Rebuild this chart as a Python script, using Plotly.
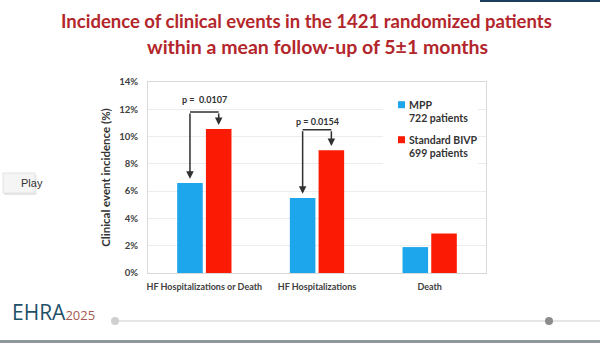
import plotly.graph_objects as go

# Clinical event incidence (%) per group
categories = ["HF Hospitalizations or Death", "HF Hospitalizations", "Death"]
mpp_values = [6.6, 5.5, 1.9]
bivp_values = [10.55, 9.0, 2.9]
series_names = ["MPP", "Standard BIVP"]
series_sizes = ["722 patients", "699 patients"]
p_labels = ["p =  0.0107", "p = 0.0154"]
y_ticks = [0, 2, 4, 6, 8, 10, 12, 14]
y_tick_text = [f"{v}%" for v in y_ticks]
title_lines = ["Incidence of clinical events in the 1421 randomized patients",
               "within a mean follow-up of 5\u00b11 months"]

W, H = 600, 343
L, R, T, B = 148, 114, 82, 70
PW, PH = W - L - R, H - T - B


def px(x, y):
    """Pixel position on the page -> paper coordinates."""
    return (x - L) / PW, (H - B - y) / PH


BLUE = "#1ea6ec"
RED = "#fb1b04"
TXT = "#404040"
FONT = "Lato"
bargap = 0.49
colors = [BLUE, RED]

fig = go.Figure()
fig.add_bar(x=categories, y=mpp_values, name=series_names[0], marker_color=BLUE,
            marker_line_width=0)
fig.add_bar(x=categories, y=bivp_values, name=series_names[1], marker_color=RED,
            marker_line_width=0)

shapes = []
annotations = []

# title, two centred lines
for line, (xx, yy, fs) in zip(title_lines, ((306, 21, 18.5), (317, 46, 19.5))):
    tx, ty = px(xx, yy)
    annotations.append(dict(x=tx, y=ty, xref="paper", yref="paper", text=line,
                            showarrow=False, xanchor="center", yanchor="middle",
                            font=dict(family=FONT, size=fs, color="#b3262b",
                                      weight="bold")))

# significance brackets over the first two groups
half = (1 - bargap) / 4
bracket_pad = [1.25, 1.5]
for i, lab in enumerate(p_labels):
    xb, xr = i - half, i + half
    top = bivp_values[i] + bracket_pad[i]
    shapes.append(dict(type="line", xref="x", yref="y", x0=xb, x1=xr, y0=top, y1=top,
                       line=dict(color="#303030", width=1.5)))
    for xx, v in ((xb, mpp_values[i]), (xr, bivp_values[i])):
        annotations.append(dict(x=xx, y=v + 0.3, ax=xx, ay=top, xref="x", yref="y",
                                axref="x", ayref="y", text="", showarrow=True,
                                arrowhead=2, arrowsize=1, arrowwidth=1.5,
                                arrowcolor="#303030"))
    annotations.append(dict(x=i, y=top + 0.6 + 0.35 * (1 - i), xref="x", yref="y",
                            text=lab, showarrow=False,
                            font=dict(family=FONT, size=9, color="#303030", weight="bold")))

# legend drawn in a white box
x0, y0 = px(383, 93)
x1, y1 = px(478, 165)
shapes.append(dict(type="rect", xref="paper", yref="paper", x0=x0, y0=y1, x1=x1, y1=y0,
                   fillcolor="white", line_width=0, layer="above"))
for k, (name, size) in enumerate(zip(series_names, series_sizes)):
    yc = 104.7 + 35 * k
    mx0, my0 = px(398, yc - 3.5)
    mx1, my1 = px(405, yc + 3.5)
    shapes.append(dict(type="rect", xref="paper", yref="paper", x0=mx0, y0=my1, x1=mx1,
                       y1=my0, fillcolor=colors[k], line_width=0, layer="above"))
    for j, txt in enumerate((name, size)):
        ax_, ay_ = px(406.5, yc + 13.5 * j)
        annotations.append(dict(x=ax_, y=ay_, xref="paper", yref="paper", text=txt,
                                showarrow=False, xanchor="left", yanchor="middle",
                                font=dict(family=FONT, size=10.5, color="#333333",
                                          weight="bold")))

# "Play" button
bx0, by0 = px(3, 173)
bx1, by1 = px(35, 193)
shapes.append(dict(type="rect", xref="paper", yref="paper", x0=bx0 + 0.004, y0=by1 - 0.01,
                   x1=bx1 + 0.004, y1=by0 - 0.01, fillcolor="#e6e6e6", line_width=0))
shapes.append(dict(type="rect", xref="paper", yref="paper", x0=bx0, y0=by1, x1=bx1, y1=by0,
                   fillcolor="#f5f5f5", line=dict(color="#e2e2e2", width=1)))
cx, cy = px(19, 183)
annotations.append(dict(x=cx, y=cy, xref="paper", yref="paper", text="Play",
                        showarrow=False, font=dict(family="Liberation Sans", size=11,
                                                   color="#333333")))

# footer: logo, timeline and bottom strip
lx, ly = px(10, 312)
annotations.append(dict(x=lx, y=ly, xref="paper", yref="paper", xanchor="left",
                        yanchor="middle", showarrow=False,
                        text="EHRA<span style='font-size:13px;color:#a65a52'>2025</span>",
                        font=dict(family="Open Sans", size=21, color="#1f5068")))
ax0, ay0 = px(115, 321)
ax1, _ = px(600, 321)
shapes.append(dict(type="line", xref="paper", yref="paper", x0=ax0, x1=ax1, y0=ay0, y1=ay0,
                   line=dict(color="#dcdcdc", width=1.5)))
for xc, col in ((115, "#cfcfcf"), (549, "#8c8c8c")):
    ca, cb = px(xc - 4, 317)
    cc, cd = px(xc + 4, 325)
    shapes.append(dict(type="circle", xref="paper", yref="paper", x0=ca, y0=cd, x1=cc, y1=cb,
                       fillcolor=col, line_width=0))
sx0, sy0 = px(0, 340)
sx1, sy1 = px(600, 343)
shapes.append(dict(type="rect", xref="paper", yref="paper", x0=sx0, y0=sy1, x1=sx1, y1=sy0,
                   fillcolor="#8e979b", line_width=0))
tx0, ty0 = px(480, 0)
tx1, ty1 = px(600, 2)
shapes.append(dict(type="rect", xref="paper", yref="paper", x0=tx0, y0=ty1, x1=tx1, y1=ty0,
                   fillcolor="#1d3d5c", line_width=0))

fig.update_layout(
    width=W, height=H,
    margin=dict(l=L, r=R, t=T, b=B),
    paper_bgcolor="white", plot_bgcolor="white",
    barmode="group", bargap=bargap, bargroupgap=0.11,
    showlegend=False,
    xaxis=dict(showgrid=False, ticks="", showline=True, mirror=True,
               linecolor="#d9d9d9", linewidth=1, ticklabelstandoff=5,
               tickfont=dict(family=FONT, size=9, color=TXT, weight="bold")),
    yaxis=dict(range=[0, 14], tickvals=y_ticks, ticktext=y_tick_text, showgrid=True,
               gridcolor="#ececec", gridwidth=1, showline=True, mirror=True,
               linecolor="#d9d9d9", linewidth=1, zeroline=False, ticks="",
               ticklabelstandoff=7,
               tickfont=dict(family=FONT, size=9.5, color=TXT, weight="bold"),
               title=dict(text="Clinical event incidence (%)", standoff=6,
                          font=dict(family=FONT, size=11.5, color="#333333",
                                    weight="bold"))),
    shapes=shapes,
    annotations=annotations,
)

fig.write_html("out.html")
